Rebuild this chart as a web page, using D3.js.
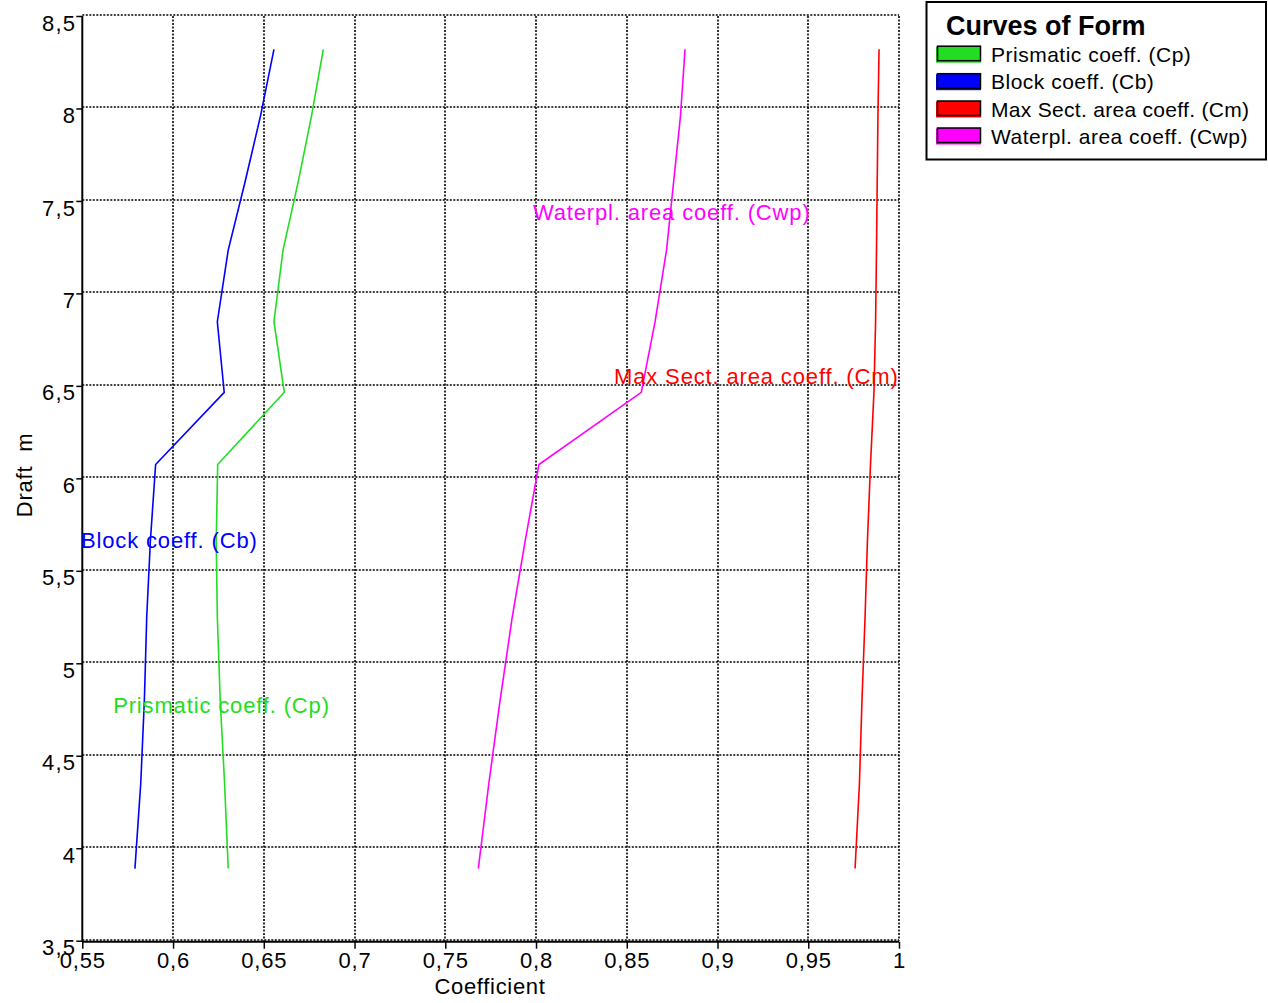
<!DOCTYPE html>
<html><head><meta charset="utf-8">
<script src="https://cdn.jsdelivr.net/npm/d3@7"></script>
<style>
body{margin:0;background:#fff;}
svg{display:block;font-family:"Liberation Sans",Arial,sans-serif;}
</style></head>
<body>
<svg id="chart" width="1268" height="1003"></svg>
<script>
// ---- data ----
const drafts = [3.89, 4.35, 4.80, 5.25, 5.66, 6.075, 6.465, 6.847, 7.234, 7.60, 7.96, 8.32];
const prismatic = [0.6304, 0.6284, 0.6260, 0.6244, 0.6238, 0.6246, 0.6613, 0.6556, 0.6606, 0.6689, 0.6763, 0.6828];
const block = [0.5790, 0.5822, 0.5842, 0.5855, 0.5875, 0.5904, 0.6282, 0.6244, 0.6304, 0.6396, 0.6482, 0.6556];
const maxSect = [0.9758, 0.9782, 0.9796, 0.9813, 0.9826, 0.9843, 0.9862, 0.9871, 0.9876, 0.9880, 0.9884, 0.9890];
const waterpl = [0.7682, 0.7740, 0.7802, 0.7869, 0.7940, 0.8016, 0.8580, 0.8656, 0.8719, 0.8758, 0.8796, 0.8821];
const seriesNames = ["Prismatic coeff. (Cp)", "Block coeff. (Cb)", "Max Sect. area coeff. (Cm)", "Waterpl. area coeff. (Cwp)"];
const seriesColors = ["#22dd22", "#0000ff", "#ff0000", "#ff00ff"];
const xTicks = [0.55, 0.6, 0.65, 0.7, 0.75, 0.8, 0.85, 0.9, 0.95, 1];
const yTicks = [3.5, 4, 4.5, 5, 5.5, 6, 6.5, 7, 7.5, 8, 8.5];
// in-chart label anchors (coefficient, draft)
const labelX = [0.567, 0.5493, 0.843, 0.7983];
const labelY = [4.73, 5.623, 6.51, 7.397];

const svg = d3.select("#chart");
const L = 82.3, R = 899, T = 16, B = 940.7;
const x = d3.scaleLinear().domain([0.55, 1]).range([L, R]);
const y = d3.scaleLinear().domain([3.5, 8.5]).range([B, T]);
const fmt = d => String(d).replace(".", ",");

// grid
const grid = svg.append("g");
grid.selectAll("line.v").data(xTicks.slice(1)).join("line")
  .attr("x1", d => Math.round(x(d))).attr("x2", d => Math.round(x(d)))
  .attr("y1", T).attr("y2", B)
  .attr("stroke", "#000").attr("stroke-width", 1.6).attr("stroke-dasharray", "2,1.5");
grid.selectAll("line.h").data(yTicks).join("line")
  .attr("y1", d => Math.round(y(d)) - 1).attr("y2", d => Math.round(y(d)) - 1)
  .attr("x1", L).attr("x2", R)
  .attr("stroke", "#000").attr("stroke-width", 1.6).attr("stroke-dasharray", "2,1.5");

// axes
const xAxis = d3.axisBottom(x).tickValues(xTicks).tickSize(7).tickFormat(fmt);
const gx = svg.append("g").attr("transform", `translate(0,${B + 1})`).call(xAxis);
gx.select(".domain").attr("stroke-width", 2).attr("d", `M${L},0H${R}`);
gx.selectAll(".tick line").attr("stroke-width", 1.5);
gx.selectAll(".tick text").attr("font-size", 22).attr("fill", "#000").attr("y", 11).attr("dy", "0.71em")
  .attr("letter-spacing", 0.8).attr("font-family", "Liberation Sans, Arial, sans-serif");

const yAxis = d3.axisLeft(y).tickValues(yTicks).tickSize(6).tickFormat(fmt);
const gy = svg.append("g").attr("transform", `translate(${L},0)`).call(yAxis);
gy.select(".domain").attr("stroke-width", 2).attr("d", `M0,${T}V${B + 1}`);
gy.selectAll(".tick line").attr("stroke-width", 1.5);
gy.selectAll(".tick text").attr("font-size", 22).attr("fill", "#000").attr("x", -6).attr("dy", "0.64em")
  .attr("letter-spacing", 1.2).attr("font-family", "Liberation Sans, Arial, sans-serif");

// axis titles
svg.append("text").attr("x", 490).attr("y", 994).attr("text-anchor", "middle")
  .attr("font-size", 22).attr("letter-spacing", 0.7).text("Coefficient");
svg.append("text").attr("transform", "translate(32,475) rotate(-90)").attr("text-anchor", "middle")
  .attr("font-size", 22).attr("letter-spacing", 0.8).attr("xml:space", "preserve").style("white-space", "pre").text("Draft  m");

// curves
const allSeries = [prismatic, block, maxSect, waterpl];
const line = d3.line().x(d => x(d[0])).y(d => y(d[1]));
allSeries.forEach((vals, i) => {
  svg.append("path").datum(vals.map((v, k) => [v, drafts[k]]))
    .attr("d", line).attr("fill", "none").attr("stroke", seriesColors[i]).attr("stroke-width", 1.6);
});

// in-chart labels
seriesNames.forEach((name, i) => {
  svg.append("text").attr("x", x(labelX[i])).attr("y", y(labelY[i]))
    .attr("font-size", 22).attr("letter-spacing", 0.85).attr("fill", seriesColors[i]).text(name);
});

// legend
const lg = svg.append("g");
lg.append("rect").attr("x", 926.5).attr("y", 2).attr("width", 339.5).attr("height", 157.5)
  .attr("fill", "#fff").attr("stroke", "#000").attr("stroke-width", 2);
lg.append("text").attr("x", 946).attr("y", 35).attr("font-size", 27).attr("font-weight", "bold").text("Curves of Form");
const baselines = [61.7, 89.2, 116.5, 143.5];
seriesNames.forEach((name, i) => {
  const b = baselines[i];
  lg.append("rect").attr("x", 936).attr("y", b - 15).attr("width", 45).attr("height", 16).attr("fill", seriesColors[i]);
  lg.append("rect").attr("x", 937.5).attr("y", b - 15.5).attr("width", 43).attr("height", 14.5)
    .attr("fill", seriesColors[i]).attr("stroke", "#000").attr("stroke-width", 1.5);
  lg.append("text").attr("x", 991).attr("y", b).attr("font-size", 21).attr("letter-spacing", i === 2 ? 0.3 : 0.5).text(name);
});
</script>
</body></html>
